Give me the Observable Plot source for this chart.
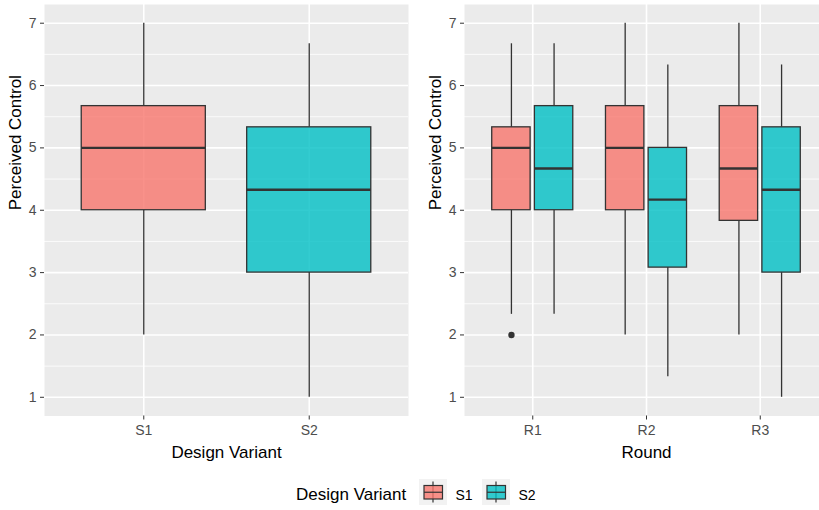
<!DOCTYPE html>
<html>
<head>
<meta charset="utf-8">
<script src="https://cdn.jsdelivr.net/npm/d3@7"></script>
<script src="https://cdn.jsdelivr.net/npm/@observablehq/plot@0.6"></script>
<style>
  html, body { margin: 0; padding: 0; background: #fff; }
  #chart { position: relative; width: 819px; height: 510px; overflow: hidden; background: #fff; }
  #chart > svg { position: absolute; top: 0; }
</style>
</head>
<body>
<div id="chart"></div>
<script>
// Design variants and rounds
const variants = ["S1", "S2"];
const rounds = ["R1", "R2", "R3"];
const variantColors = ["#F8766D", "#00BFC4"];

// Overall box statistics per design variant (S1, S2)
const overallLow = [2, 1];
const overallQ1 = [4, 3];
const overallMedian = [5, 4.33];
const overallQ3 = [5.67, 5.33];
const overallHigh = [7, 6.67];

// Box statistics per round (R1, R2, R3) for S1
const s1Low = [2.33, 2, 2];
const s1Q1 = [4, 4, 3.83];
const s1Median = [5, 5, 4.67];
const s1Q3 = [5.33, 5.67, 5.67];
const s1High = [6.67, 7, 7];

// Box statistics per round (R1, R2, R3) for S2
const s2Low = [2.33, 1.33, 1];
const s2Q1 = [4, 3.08, 3];
const s2Median = [4.67, 4.17, 4.33];
const s2Q3 = [5.67, 5, 5.33];
const s2High = [6.67, 6.33, 6.33];

// Outlying observations
const outlierRound = ["R1"];
const outlierVariant = ["S1"];
const outlierValue = [2];

// Axis ticks
const yTicks = [1, 2, 3, 4, 5, 6, 7];
const yMinorTicks = [1.5, 2.5, 3.5, 4.5, 5.5, 6.5];

const FONT = "'Liberation Sans', Arial, Helvetica, sans-serif";
const GRID = "#FFFFFF";
const INK = "#333333";

// Table of boxes for the left panel
const overallBoxes = variants.map((v, i) => ({
  variant: v, pos: i + 1, half: 0.375,
  low: overallLow[i], q1: overallQ1[i], median: overallMedian[i], q3: overallQ3[i], high: overallHigh[i]
}));

// Table of dodged boxes for the right panel
const roundStats = [
  {low: s1Low, q1: s1Q1, median: s1Median, q3: s1Q3, high: s1High},
  {low: s2Low, q1: s2Q1, median: s2Median, q3: s2Q3, high: s2High}
];
const dodge = 0.1875;
const roundBoxes = [];
rounds.forEach((r, ri) => {
  variants.forEach((v, vi) => {
    const s = roundStats[vi];
    roundBoxes.push({
      variant: v, round: r, pos: ri + 1 + (vi === 0 ? -dodge : dodge), half: 0.16875,
      low: s.low[ri], q1: s.q1[ri], median: s.median[ri], q3: s.q3[ri], high: s.high[ri]
    });
  });
});
const roundOutliers = outlierValue.map((val, i) => ({
  value: val,
  pos: rounds.indexOf(outlierRound[i]) + 1 + (variants.indexOf(outlierVariant[i]) === 0 ? -dodge : dodge)
}));

function boxPanel({boxes, outliers, categories, xTitle, width, marginLeft, marginRight}) {
  const positions = categories.map((c, i) => i + 1);
  return Plot.plot({
    width, height: 465,
    marginLeft, marginRight, marginTop: 4, marginBottom: 49.5,
    style: {fontFamily: FONT, fontSize: "14px", color: INK, background: "transparent", overflow: "visible"},
    x: {domain: [0.4, categories.length + 0.6], axis: null},
    y: {domain: [0.7, 7.3], axis: null},
    color: {domain: variants, range: variantColors},
    marks: [
      Plot.frame({fill: "#EBEBEB", stroke: null}),
      Plot.ruleY(yMinorTicks, {stroke: GRID, strokeWidth: 0.8}),
      Plot.ruleY(yTicks, {stroke: GRID, strokeWidth: 1.6}),
      Plot.ruleX(positions, {stroke: GRID, strokeWidth: 1.6}),
      // whiskers
      Plot.ruleX(boxes, {x: "pos", y1: "low", y2: "q1", stroke: INK, strokeWidth: 1.3}),
      Plot.ruleX(boxes, {x: "pos", y1: "q3", y2: "high", stroke: INK, strokeWidth: 1.3}),
      // boxes
      Plot.rect(boxes, {
        x1: d => d.pos - d.half, x2: d => d.pos + d.half, y1: "q1", y2: "q3",
        fill: "variant", fillOpacity: 0.8, stroke: INK, strokeWidth: 1.3
      }),
      // medians
      Plot.ruleY(boxes, {
        y: "median", x1: d => d.pos - d.half, x2: d => d.pos + d.half,
        stroke: INK, strokeWidth: 2.4
      }),
      Plot.dot(outliers, {x: "pos", y: "value", r: 3.2, fill: INK, stroke: null}),
      // axes
      Plot.axisX(positions, {
        tickFormat: d => categories[d - 1], tickSize: 4, tickPadding: 5,
        fontSize: 14, fill: "#4D4D4D", stroke: INK, label: null
      }),
      Plot.axisY(yTicks, {
        tickFormat: d => String(d),
        tickSize: 4, tickPadding: 4, fontSize: 14, fill: "#4D4D4D", stroke: INK, label: null
      }),
      Plot.text([xTitle], {
        text: d => d, frameAnchor: "bottom", lineAnchor: "bottom", dy: 42,
        fontSize: 17, fill: "#000"
      }),
      Plot.text(["Perceived Control"], {
        text: d => d, frameAnchor: "left", rotate: -90, dx: -28.5,
        fontSize: 17, fill: "#000"
      })
    ]
  });
}

const chart = document.getElementById("chart");

const left = boxPanel({
  boxes: overallBoxes, outliers: [], categories: variants, xTitle: "Design Variant",
  width: 410, marginLeft: 44, marginRight: 2
});
left.style.left = "0px";
chart.appendChild(left);

const right = boxPanel({
  boxes: roundBoxes, outliers: roundOutliers, categories: rounds, xTitle: "Round",
  width: 418, marginLeft: 54, marginRight: 0
});
right.style.left = "410px";
chart.appendChild(right);

// Legend for the fill colour
const legend = d3.create("svg")
  .attr("width", 819).attr("height", 45)
  .style("top", "465px").style("left", "0px")
  .style("font-family", FONT);
legend.append("text")
  .attr("x", 296).attr("y", 34.5)
  .attr("font-size", 17).attr("fill", "#000")
  .text("Design Variant");
const keyX = [419, 482];
variants.forEach((v, i) => {
  const g = legend.append("g").attr("transform", `translate(${keyX[i]},14)`);
  g.append("rect").attr("width", 28).attr("height", 26).attr("fill", "#F2F2F2");
  g.append("line").attr("x1", 14).attr("x2", 14).attr("y1", 2.5).attr("y2", 23.5)
    .attr("stroke", INK).attr("stroke-width", 1.2);
  g.append("rect").attr("x", 5).attr("y", 6.5).attr("width", 18.5).attr("height", 13.5)
    .attr("fill", variantColors[i]).attr("fill-opacity", 0.8)
    .attr("stroke", INK).attr("stroke-width", 1.2);
  g.append("line").attr("x1", 5).attr("x2", 23.5).attr("y1", 13.25).attr("y2", 13.25)
    .attr("stroke", INK).attr("stroke-width", 1.2);
  g.append("text").attr("x", 36.5).attr("y", 20.5)
    .attr("font-size", 14).attr("fill", "#000").text(v);
});
chart.appendChild(legend.node());
</script>
</body>
</html>
